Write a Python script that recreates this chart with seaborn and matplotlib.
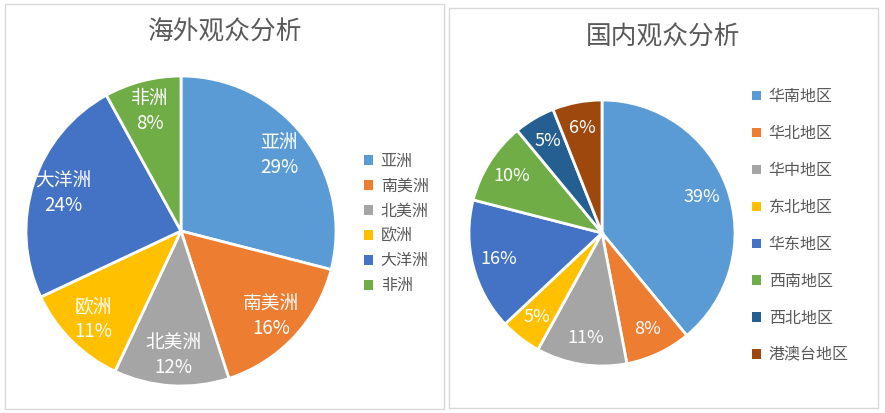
import matplotlib
matplotlib.use("Agg")
import matplotlib.pyplot as plt
import seaborn as sns
from matplotlib.patches import Rectangle, Patch

sns.set_theme(style="white")
plt.rcParams['font.family'] = ['Noto Sans CJK SC', 'DejaVu Sans']

# Data
overseas_title = "海外观众分析"
overseas_labels = ["亚洲", "南美洲", "北美洲", "欧洲", "大洋洲", "非洲"]
overseas_values = [29, 16, 12, 11, 24, 8]

domestic_title = "国内观众分析"
domestic_labels = ["华南地区", "华北地区", "华中地区", "东北地区", "华东地区", "西南地区", "西北地区", "港澳台地区"]
domestic_values = [39, 8, 11, 5, 16, 10, 5, 6]

colors = ["#5B9BD5", "#ED7D31", "#A5A5A5", "#FFC000", "#4472C4", "#70AD47", "#255E91", "#9E480E"]

W, H = 885, 413
fig = plt.figure(figsize=(W / 100, H / 100), dpi=100)
fig.patch.set_facecolor("white")

def fx(px):
    return px / W

def fy(py):
    return 1 - py / H

# panel borders
for (x0, y0, x1, y1) in [(5, 4, 444, 409), (449, 8, 878, 408)]:
    fig.patches.append(Rectangle((fx(x0), fy(y1)), fx(x1) - fx(x0), fy(y0) - fy(y1),
                                 transform=fig.transFigure, fill=False,
                                 edgecolor="#D9D9D9", linewidth=1))

def make_pie(cx, cy, r, values, labels, colors_, with_names, title, tx, ty,
             leg_x, leg_y, leg_spacing, label_fs):
    ax = fig.add_axes([fx(cx - r), fy(cy + r), fx(2 * r), (2 * r) / H])
    if with_names:
        texts = [f"{n}\n{v}%" for n, v in zip(labels, values)]
    else:
        texts = [f"{v}%" for v in values]
    wedges, txts = ax.pie(values, colors=colors_[:len(values)], startangle=90,
                          counterclock=False, labels=texts, labeldistance=0.8,
                          wedgeprops=dict(edgecolor="white", linewidth=2),
                          textprops=dict(color="white", fontsize=label_fs,
                                         ha="center", va="center",
                                         linespacing=1.25))
    for t in txts:
        t.set_ha("center")
        t.set_va("center")
    ax.set_xlim(-1, 1)
    ax.set_ylim(-1, 1)
    ax.set_aspect("equal")
    ax.axis("off")
    fig.text(fx(tx), fy(ty), title, ha="center", va="center",
             fontsize=18.5, color="#595959")
    handles = [Patch(facecolor=c, edgecolor="none") for c in colors_[:len(values)]]
    leg = fig.legend(handles, labels, loc="center left",
                     bbox_to_anchor=(fx(leg_x), fy(leg_y)),
                     frameon=False, fontsize=11.5, handlelength=0.55,
                     handleheight=0.55, handletextpad=0.5,
                     labelspacing=leg_spacing, borderpad=0, borderaxespad=0)
    for t in leg.get_texts():
        t.set_color("#595959")

make_pie(181, 231, 155, overseas_values, overseas_labels, colors, True,
         overseas_title, 225, 33, 364, 223.5, 0.5, 13.5)
make_pie(602, 233, 133, domestic_values, domestic_labels, colors, False,
         domestic_title, 663, 38, 752, 226, 1.25, 13)

fig.savefig("out.png", dpi=100, facecolor="white")
